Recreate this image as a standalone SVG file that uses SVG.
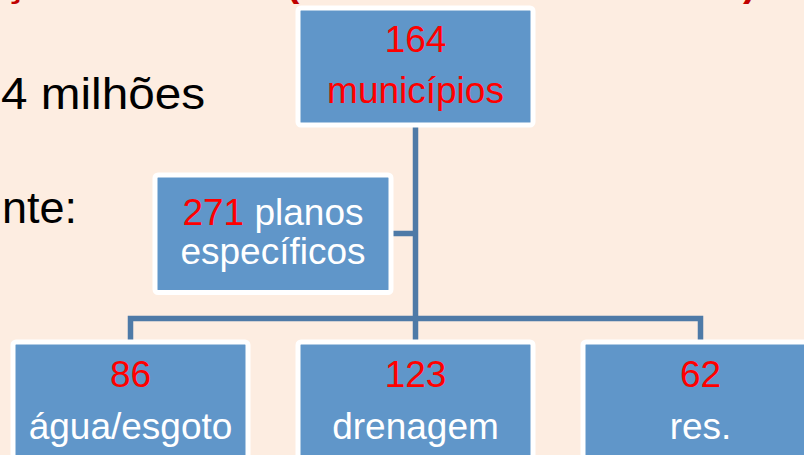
<svg xmlns="http://www.w3.org/2000/svg" width="804" height="455" viewBox="0 0 804 455">
<style>
.box{fill:#6096C9;stroke:#FFFFFF;stroke-width:5}
.t{font-family:"Liberation Sans",Arial,sans-serif;font-size:37px;text-anchor:middle}
.red{fill:#FF0000}
.wh{fill:#FFFFFF}
.body{font-family:"Liberation Sans",Arial,sans-serif;font-size:45px;fill:#000000}
.title{font-family:"Liberation Sans",Arial,sans-serif;font-size:40px;font-weight:bold;fill:#C00000}
.conn{fill:none;stroke:#4E7AA7;stroke-width:5.5}
</style>
<rect width="804" height="455" fill="#FDEDE1"/>
<g id="title">
<text class="title" x="4" y="-4">ç</text>
<text class="title" x="286" y="-4">(</text>
<text class="title" x="743" y="-4">)</text>
</g>
<g id="bodytext">
<text class="body" x="1" y="109" font-size="46" textLength="204" lengthAdjust="spacingAndGlyphs">4 milhões</text>
<text class="body" x="77" y="223" text-anchor="end">nte:</text>
</g>
<g id="connectors">
<line class="conn" x1="415.5" y1="125" x2="415.5" y2="342"/>
<line class="conn" x1="390" y1="233.5" x2="415.5" y2="233.5"/>
<polyline class="conn" points="130.5,342 130.5,318.5 700.5,318.5 700.5,342"/>
</g>
<g id="node-municipios">
<rect class="box" x="298" y="8" width="235" height="117" rx="3"/>
<text class="t red" x="415.5" y="52">164</text>
<text class="t red" x="415.5" y="103">municípios</text>
</g>
<g id="node-planos">
<rect class="box" x="155" y="175" width="236" height="117.5" rx="3"/>
<text class="t" x="273" y="225"><tspan class="red">271</tspan><tspan class="wh"> planos</tspan></text>
<text class="t wh" x="273" y="264">específicos</text>
</g>
<g id="node-agua">
<rect class="box" x="13" y="342" width="235" height="130" rx="3"/>
<text class="t red" x="130.5" y="387">86</text>
<text class="t wh" x="130.5" y="439">água/esgoto</text>
</g>
<g id="node-drenagem">
<rect class="box" x="298" y="342" width="235" height="130" rx="3"/>
<text class="t red" x="415.5" y="387">123</text>
<text class="t wh" x="415.5" y="439">drenagem</text>
</g>
<g id="node-res">
<rect class="box" x="583" y="342" width="235" height="130" rx="3"/>
<text class="t red" x="700.5" y="387">62</text>
<text class="t wh" x="700.5" y="439">res.</text>
</g>
</svg>
